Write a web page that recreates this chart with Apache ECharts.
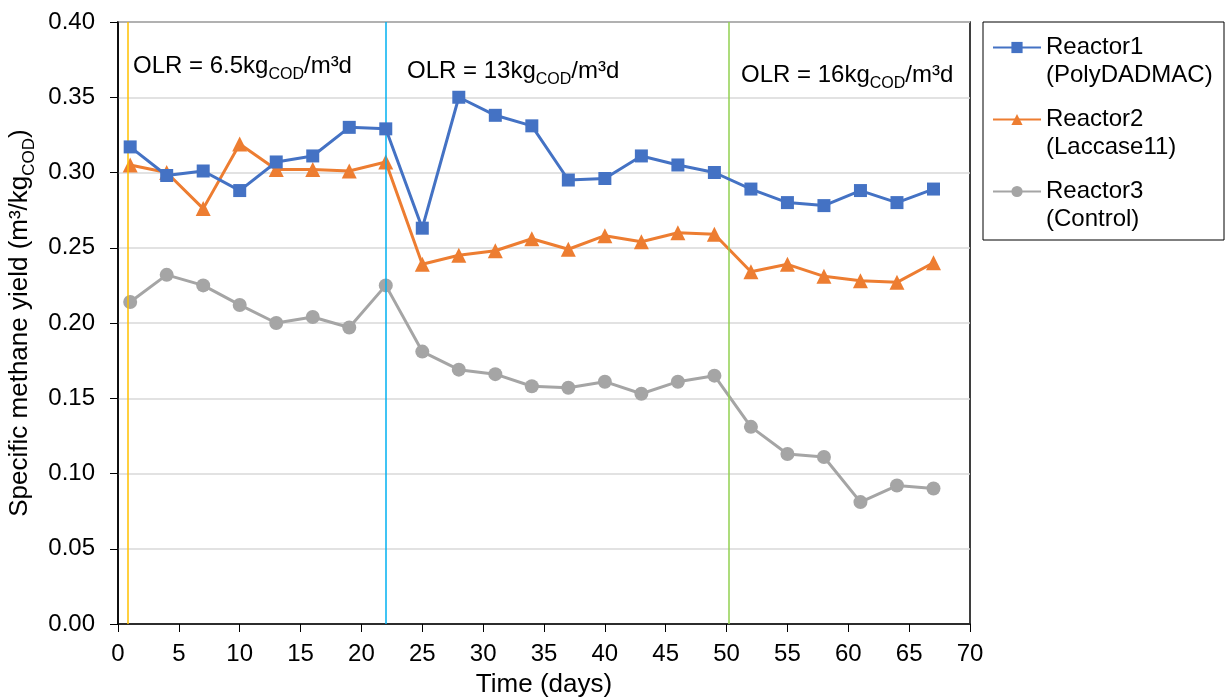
<!DOCTYPE html>
<html>
<head>
<meta charset="utf-8">
<title>Specific methane yield</title>
<script src="https://cdn.jsdelivr.net/npm/echarts@6/dist/echarts.min.js"></script>
<style>
  html, body { margin: 0; padding: 0; background: #fff; }
  #main { width: 1225px; height: 699px; }
</style>
</head>
<body>
<div id="main"></div>
<script type="text/javascript">
// sampling days
var days = [1, 4, 7, 10, 13, 16, 19, 22, 25, 28, 31, 34, 37, 40, 43, 46, 49, 52, 55, 58, 61, 64, 67];

// specific methane yield (m3/kgCOD)
var reactor1 = [0.317, 0.298, 0.301, 0.288, 0.307, 0.311, 0.330, 0.329, 0.263, 0.350, 0.338, 0.331,
                0.295, 0.296, 0.311, 0.305, 0.300, 0.289, 0.280, 0.278, 0.288, 0.280, 0.289];
var reactor2 = [0.305, 0.300, 0.276, 0.319, 0.302, 0.302, 0.301, 0.307, 0.239, 0.245, 0.248, 0.256,
                0.249, 0.258, 0.254, 0.260, 0.259, 0.234, 0.239, 0.231, 0.228, 0.227, 0.240];
var reactor3 = [0.214, 0.232, 0.225, 0.212, 0.200, 0.204, 0.197, 0.225, 0.181, 0.169, 0.166, 0.158,
                0.157, 0.161, 0.153, 0.161, 0.165, 0.131, 0.113, 0.111, 0.081, 0.092, 0.090];

// OLR change days (vertical lines) and their labels
var olrDays = [0.8, 22, 50.2];
var olrColors = ['#FFC000', '#00B0F0', '#92D050'];
var olrLoads = ['6.5', '13', '16'];

var seriesNames = ['Reactor1', 'Reactor2', 'Reactor3'];
var seriesNotes = ['(PolyDADMAC)', '(Laccase11)', '(Control)'];

function pairs(vals) {
    return days.map(function (d, i) { return [d, vals[i]]; });
}

var FONT = '"Liberation Sans", Arial, sans-serif';
var richOlr = {
    n: { fontSize: 24, fontFamily: FONT, color: '#000' },
    s: { fontSize: 16, fontFamily: FONT, color: '#000', padding: [18, 0, 0, 0] }
};

// OLR labels sit in the top band of each phase
var olrPos = [[133, 54], [407, 59], [741, 63]];
var graphics = olrLoads.map(function (load, i) {
    return {
        type: 'text', left: olrPos[i][0], top: olrPos[i][1], z: 50,
        style: { text: '{n|OLR = ' + load + 'kg}{s|COD}{n|/m³d}', rich: richOlr }
    };
});
// second line of each legend entry
seriesNotes.forEach(function (note, i) {
    graphics.push({
        type: 'text', left: 1046, top: 62 + i * 72, z: 100,
        style: { text: note, fontSize: 24, fontFamily: FONT, fill: '#000', lineHeight: 27 }
    });
});

var myChart = echarts.init(document.getElementById('main'));

var option = {
    backgroundColor: '#fff',
    animation: false,
    textStyle: { fontFamily: FONT },
    grid: {
        left: 118,
        top: 22,
        right: 255,
        bottom: 75,
        outerBoundsMode: 'none',
        show: true,
        borderColor: '#000',
        borderWidth: 1.5
    },
    legend: {
        orient: 'vertical',
        left: 983,
        top: 22,
        padding: [12, 8, 35, 9],
        itemGap: 45,
        itemWidth: 48,
        itemHeight: 14,
        borderColor: '#000',
        borderWidth: 1,
        backgroundColor: '#fff',
        data: seriesNames,
        textStyle: { fontSize: 24, fontFamily: FONT, color: '#000', lineHeight: 27, width: 170 }
    },
    xAxis: {
        type: 'value',
        min: 0,
        max: 70,
        interval: 5,
        name: 'Time (days)',
        nameLocation: 'middle',
        nameGap: 48,
        nameTextStyle: { fontSize: 26, fontFamily: FONT, color: '#000' },
        axisLine: { lineStyle: { color: '#000', width: 1.5 } },
        axisTick: { show: true, length: 8, lineStyle: { color: '#000' } },
        axisLabel: { fontSize: 24, color: '#000', margin: 18 },
        splitLine: { show: false }
    },
    yAxis: {
        type: 'value',
        min: 0,
        max: 0.4,
        interval: 0.05,
        name: '{n|Specific methane yield (m³/kg}{s|COD}{n|)}',
        nameLocation: 'middle',
        nameGap: 73,
        nameTextStyle: {
            rich: {
                n: { fontSize: 26, fontFamily: FONT, color: '#000' },
                s: { fontSize: 17, fontFamily: FONT, color: '#000', padding: [19, 0, 0, 0] }
            }
        },
        axisLine: { show: true, lineStyle: { color: '#000', width: 1.5 } },
        axisTick: { show: true, length: 8, lineStyle: { color: '#000' } },
        axisLabel: {
            fontSize: 24, color: '#000', margin: 23,
            formatter: function (v) { return v.toFixed(2); }
        },
        splitLine: { show: true, lineStyle: { color: '#D9D9D9', width: 1.5 } }
    },
    graphic: graphics,
    series: [
        {
            name: 'OLR',
            type: 'line',
            data: [],
            silent: true,
            markLine: {
                symbol: 'none',
                silent: true,
                label: { show: false },
                data: olrDays.map(function (d, i) {
                    return { xAxis: d, lineStyle: { color: olrColors[i], width: 1.5, type: 'solid' } };
                })
            }
        },
        {
            name: 'Reactor1',
            type: 'line',
            data: pairs(reactor1),
            symbol: 'rect',
            symbolSize: 13,
            z: 5,
            itemStyle: { color: '#4472C4' },
            lineStyle: { color: '#4472C4', width: 3 }
        },
        {
            name: 'Reactor2',
            type: 'line',
            data: pairs(reactor2),
            symbol: 'triangle',
            symbolSize: 15,
            z: 4,
            itemStyle: { color: '#ED7D31' },
            lineStyle: { color: '#ED7D31', width: 3 }
        },
        {
            name: 'Reactor3',
            type: 'line',
            data: pairs(reactor3),
            symbol: 'circle',
            symbolSize: 14,
            z: 3,
            itemStyle: { color: '#A5A5A5' },
            lineStyle: { color: '#A5A5A5', width: 3 }
        }
    ]
};

myChart.setOption(option);
</script>
</body>
</html>
